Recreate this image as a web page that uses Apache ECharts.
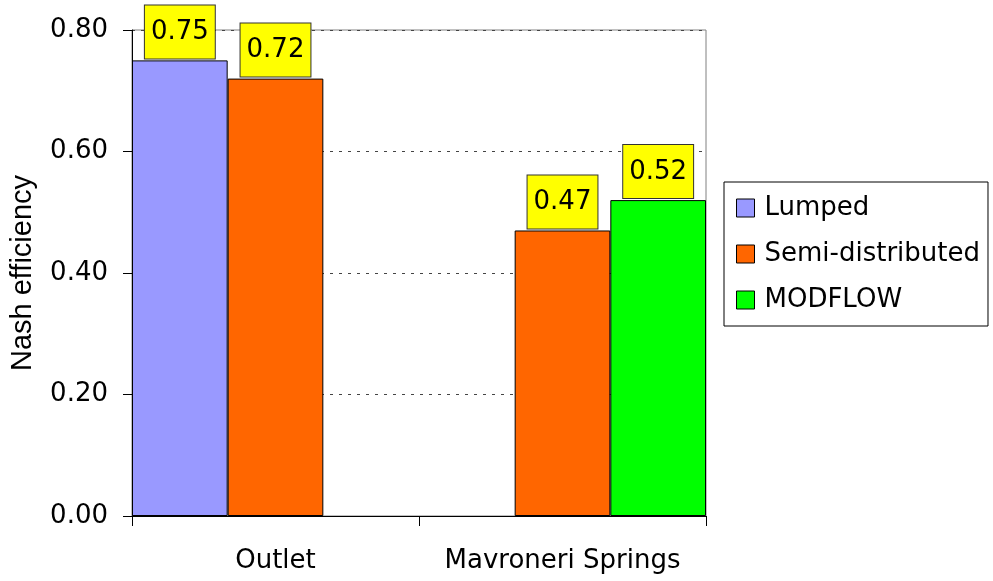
<!DOCTYPE html>
<html>
<head>
<meta charset="utf-8">
<script src="https://cdn.jsdelivr.net/npm/echarts@6/dist/echarts.min.js"></script>
<style>
  html, body { margin: 0; padding: 0; background: #fff; }
  #chart { width: 993px; height: 581px; }
</style>
</head>
<body>
<div id="chart"></div>
<script>
// data
var sites = ['Outlet', 'Mavroneri Springs']
var lumped = [0.75, null]
var semiDistributed = [0.72, 0.47]
var modflow = [null, 0.52]
var yTicks = [0, 0.2, 0.4, 0.6, 0.8]

var labelFont = 'DejaVu Sans'

function barSeries(name, data, color) {
  return {
    name: name,
    type: 'bar',
    data: data,
    barGap: '0%',
    barCategoryGap: '0%',
    itemStyle: { color: color, borderColor: '#000', borderWidth: 1 },
    label: {
      show: true,
      position: 'top',
      distance: 2,
      formatter: function (p) { return p.value.toFixed(2) },
      fontFamily: labelFont,
      fontSize: 26,
      lineHeight: 30,
      color: '#000',
      backgroundColor: '#ffff00',
      borderColor: '#333',
      borderWidth: 1,
      padding: [12, 6, 11, 6]
    }
  }
}

var myChart = echarts.init(document.getElementById('chart'))
var option = {
  animation: false,
  grid: {
    left: 132, right: 287, top: 30, bottom: 65,
    outerBoundsMode: 'none',
    containLabel: false,
    show: true, borderColor: '#808080', borderWidth: 1
  },
  legend: {
    orient: 'vertical',
    left: 724, top: 182,
    padding: [11, 8, 11, 12],
    itemWidth: 18, itemHeight: 18, itemGap: 16,
    icon: 'rect',
    itemStyle: { borderColor: '#000', borderWidth: 1 },
    borderColor: '#000', borderWidth: 1,
    textStyle: { fontFamily: labelFont, fontSize: 26, lineHeight: 30, color: '#000', padding: [0, 0, 0, 5] },
    data: ['Lumped', 'Semi-distributed', 'MODFLOW']
  },
  xAxis: {
    type: 'category',
    data: sites,
    axisLine: { lineStyle: { color: '#000', width: 1 } },
    axisTick: { show: true, interval: 0, alignWithLabel: false, length: 10, lineStyle: { color: '#000', width: 1 } },
    axisLabel: { interval: 0, fontFamily: labelFont, fontSize: 26, color: '#000', margin: 32 }
  },
  yAxis: {
    type: 'value',
    min: yTicks[0], max: yTicks[yTicks.length - 1], interval: 0.2,
    name: 'Nash efficiency',
    nameLocation: 'middle',
    nameGap: 95,
    nameTextStyle: { fontFamily: 'Liberation Sans', fontSize: 29, color: '#000' },
    axisLine: { show: true, lineStyle: { color: '#000', width: 1 } },
    axisTick: { show: true, length: 9, lineStyle: { color: '#000' } },
    axisLabel: {
      fontFamily: labelFont, fontSize: 26, color: '#000', margin: 24,
      formatter: function (v) { return v.toFixed(2) }
    },
    splitLine: { show: true, lineStyle: { color: '#444', type: [3, 6], width: 1 } }
  },
  series: [
    barSeries('Lumped', lumped, '#9999ff'),
    barSeries('Semi-distributed', semiDistributed, '#ff6600'),
    barSeries('MODFLOW', modflow, '#00ff00')
  ]
}
myChart.setOption(option)
window.onresize = function () {
  myChart.resize()
}
</script>
</body>
</html>
